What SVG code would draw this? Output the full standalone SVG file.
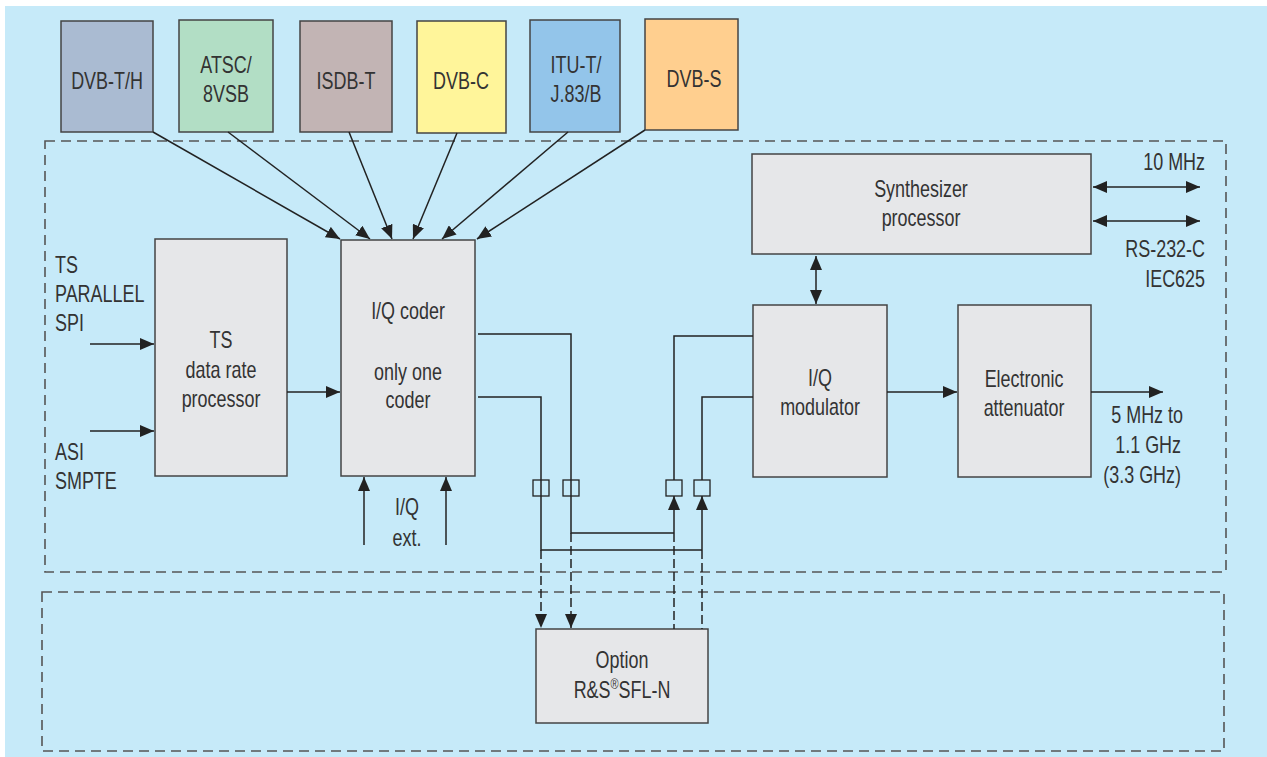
<svg xmlns="http://www.w3.org/2000/svg" width="1267" height="757" viewBox="0 0 1267 757">
<style>
text{font-family:"Liberation Sans",Arial,sans-serif;font-size:23px;fill:#333;text-anchor:middle}
.l{text-anchor:start}
.r{text-anchor:end}
.box{stroke:#444;stroke-width:1.5}
.g{fill:#e6e7e9}
.frame{fill:none;stroke:#555;stroke-width:1.6;stroke-dasharray:10 6}
.c{fill:none;stroke:#222;stroke-width:1.5}
.d{fill:none;stroke:#222;stroke-width:1.5;stroke-dasharray:9 4}
.a{marker-end:url(#ah)}
.b{marker-start:url(#ah);marker-end:url(#ah)}
.sq{fill:none;stroke:#222;stroke-width:1.3}
</style>
<defs>
<marker id="ah" viewBox="0 0 14 12" refX="14" refY="6" markerWidth="14" markerHeight="12" orient="auto-start-reverse" markerUnits="userSpaceOnUse"><path d="M0,0 L14,6 L0,12 z" fill="#222"/></marker>
</defs>
<rect x="5" y="6" width="1262" height="751" fill="#c6eaf9"/>
<rect class="frame" x="45" y="141" width="1181" height="431"/>
<rect class="frame" x="42" y="592" width="1182" height="159"/>

<g id="dvbth"><rect class="box" x="61" y="21" width="92" height="111" fill="#aabbd2"/><text transform="translate(107,89) scale(0.78,1)">DVB-T/H</text></g>
<g id="atsc"><rect class="box" x="179" y="20" width="94" height="112" fill="#b2dec5"/><text transform="translate(226,73) scale(0.78,1)">ATSC/</text><text transform="translate(226,102) scale(0.78,1)">8VSB</text></g>
<g id="isdbt"><rect class="box" x="300" y="21" width="92" height="111" fill="#c2b4b4"/><text transform="translate(346,89) scale(0.78,1)">ISDB-T</text></g>
<g id="dvbc"><rect class="box" x="417" y="21" width="89" height="112" fill="#fff59a"/><text transform="translate(461,89) scale(0.78,1)">DVB-C</text></g>
<g id="itut"><rect class="box" x="530" y="20" width="90" height="112" fill="#93c5ea"/><text transform="translate(576,73) scale(0.78,1)">ITU-T/</text><text transform="translate(576,102) scale(0.78,1)">J.83/B</text></g>
<g id="dvbs"><rect class="box" x="645" y="19" width="93" height="111" fill="#ffcf8f"/><text transform="translate(694,87) scale(0.78,1)">DVB-S</text></g>

<g id="ts"><rect class="box g" x="155" y="239" width="132" height="237"/><text transform="translate(221,348) scale(0.78,1)">TS</text><text transform="translate(221,378) scale(0.78,1)">data rate</text><text transform="translate(221,407) scale(0.78,1)">processor</text></g>
<g id="iqcoder"><rect class="box g" x="341" y="240" width="134" height="236"/><text transform="translate(408,319) scale(0.78,1)">I/Q coder</text><text transform="translate(408,380) scale(0.78,1)">only one</text><text transform="translate(408,408) scale(0.78,1)">coder</text></g>
<g id="synth"><rect class="box g" x="752" y="154" width="339" height="100"/><text transform="translate(921,197) scale(0.78,1)">Synthesizer</text><text transform="translate(921,226) scale(0.78,1)">processor</text></g>
<g id="iqmod"><rect class="box g" x="753" y="305" width="134" height="172"/><text transform="translate(820,386) scale(0.78,1)">I/Q</text><text transform="translate(820,415) scale(0.78,1)">modulator</text></g>
<g id="atten"><rect class="box g" x="958" y="305" width="133" height="172"/><text transform="translate(1024,387) scale(0.78,1)">Electronic</text><text transform="translate(1024,416) scale(0.78,1)">attenuator</text></g>
<g id="option"><rect class="box g" x="536" y="629" width="172" height="94"/><text transform="translate(622,668) scale(0.78,1)">Option</text><text transform="translate(622,698) scale(0.78,1)">R&amp;S<tspan font-size="14" dy="-9">®</tspan><tspan dy="9">SFL-N</tspan></text></g>

<g id="labels">
<text class="l" transform="translate(55,273) scale(0.78,1)">TS</text>
<text class="l" transform="translate(55,302) scale(0.78,1)">PARALLEL</text>
<text class="l" transform="translate(55,331) scale(0.78,1)">SPI</text>
<text class="l" transform="translate(55,460) scale(0.78,1)">ASI</text>
<text class="l" transform="translate(55,489) scale(0.78,1)">SMPTE</text>
<text transform="translate(407,515) scale(0.78,1)">I/Q</text>
<text transform="translate(407,546) scale(0.78,1)">ext.</text>
<text class="r" transform="translate(1205,170) scale(0.78,1)">10 MHz</text>
<text class="r" transform="translate(1205,257) scale(0.78,1)">RS-232-C</text>
<text class="r" transform="translate(1205,287) scale(0.78,1)">IEC625</text>
<text class="r" transform="translate(1183,423) scale(0.78,1)">5 MHz to</text>
<text class="r" transform="translate(1181,453) scale(0.78,1)">1.1 GHz</text>
<text class="r" transform="translate(1181,483) scale(0.78,1)">(3.3 GHz)</text>
</g>

<g id="connectors">
<line class="c a" x1="153" y1="132" x2="340" y2="239"/>
<line class="c a" x1="228" y1="132" x2="370" y2="239"/>
<line class="c a" x1="349" y1="132" x2="392" y2="239"/>
<line class="c a" x1="457" y1="133" x2="413" y2="239"/>
<line class="c a" x1="568" y1="132" x2="442" y2="239"/>
<line class="c a" x1="645" y1="130" x2="477" y2="239"/>
<line class="c a" x1="90" y1="344" x2="154" y2="344"/>
<line class="c a" x1="90" y1="431" x2="154" y2="431"/>
<line class="c a" x1="287" y1="392" x2="340" y2="392"/>
<line class="c a" x1="364" y1="545" x2="364" y2="477"/>
<line class="c a" x1="446" y1="545" x2="446" y2="477"/>
<line class="c b" x1="816" y1="256" x2="816" y2="304"/>
<line class="c b" x1="1093" y1="187" x2="1200" y2="187"/>
<line class="c b" x1="1093" y1="221" x2="1200" y2="221"/>
<line class="c a" x1="887" y1="392" x2="957" y2="392"/>
<line class="c a" x1="1091" y1="392" x2="1163" y2="392"/>
<polyline class="c" points="478,334 571,334 571,533 674,533"/>
<polyline class="c" points="478,397 541,397 541,550 702,550"/>
<polyline class="c" points="753,336 674,336 674,480"/>
<polyline class="c" points="753,397 702,397 702,480"/>
<line class="c a" x1="674" y1="533" x2="674" y2="496"/>
<line class="c a" x1="702" y1="550" x2="702" y2="496"/>
<rect class="sq" x="533" y="480" width="16" height="16"/>
<rect class="sq" x="563" y="480" width="16" height="16"/>
<rect class="sq" x="666" y="480" width="16" height="16"/>
<rect class="sq" x="694" y="480" width="16" height="16"/>
<line class="d a" x1="541" y1="550" x2="541" y2="628"/>
<line class="d a" x1="571" y1="533" x2="571" y2="628"/>
<line class="d" x1="674" y1="533" x2="674" y2="629"/>
<line class="d" x1="702" y1="550" x2="702" y2="629"/>
</g>
</svg>
